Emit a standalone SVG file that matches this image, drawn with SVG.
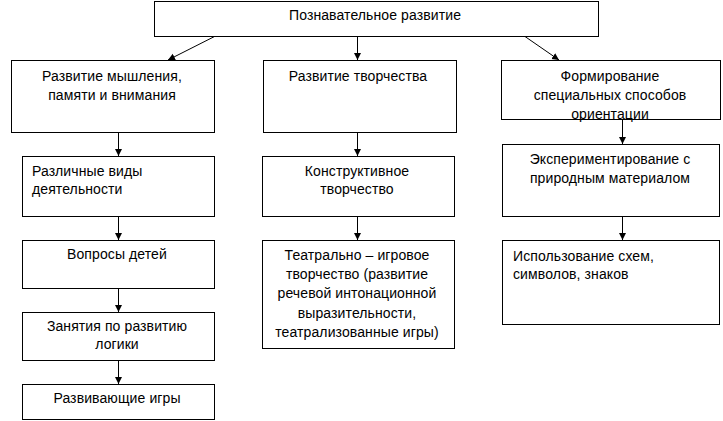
<svg xmlns="http://www.w3.org/2000/svg" width="723" height="421" viewBox="0 0 723 421">
<defs>
<marker id="ah" markerWidth="8" markerHeight="8" refX="7" refY="4" orient="auto" markerUnits="userSpaceOnUse">
<path d="M0,0.5 L7,4 L0,7.5 Z" fill="#000"/>
</marker>
<style>
.box{fill:#fff;stroke:#000;stroke-width:1}
text{font-family:"Liberation Sans",Arial,sans-serif;font-size:14px;fill:#000;letter-spacing:0.1px}
.c{text-anchor:middle}
.ln{stroke:#000;stroke-width:1;fill:none;marker-end:url(#ah)}
</style>
</defs>
<rect width="723" height="421" fill="#fff"/>
<g id="connectors">
<line class="ln" x1="214.5" y1="36.5" x2="168" y2="60"/>
<line class="ln" x1="357.5" y1="36.5" x2="357.5" y2="60"/>
<line class="ln" x1="525" y1="36.5" x2="559" y2="60"/>
<line class="ln" x1="118.5" y1="132.5" x2="118.5" y2="156"/>
<line class="ln" x1="118.5" y1="216.5" x2="118.5" y2="240"/>
<line class="ln" x1="118.5" y1="288.5" x2="118.5" y2="312"/>
<line class="ln" x1="118.5" y1="360.5" x2="118.5" y2="384"/>
<line class="ln" x1="357.5" y1="132.5" x2="357.5" y2="156"/>
<line class="ln" x1="357.5" y1="216.5" x2="357.5" y2="240"/>
<line class="ln" x1="622.5" y1="119.5" x2="622.5" y2="144"/>
<line class="ln" x1="622.5" y1="216.5" x2="622.5" y2="240"/>
</g>
<g id="n0"><rect class="box" x="154.5" y="1.5" width="444" height="35"/><text class="c" x="375" y="20">Познавательное развитие</text></g>
<g id="n1"><rect class="box" x="11.5" y="60.5" width="203" height="72"/><text class="c" x="112" y="81">Развитие мышления,</text><text class="c" x="112" y="100">памяти и внимания</text></g>
<g id="n2"><rect class="box" x="263.5" y="60.5" width="193" height="72"/><text class="c" x="358" y="81">Развитие творчества</text></g>
<g id="n3"><rect class="box" x="501.5" y="60.5" width="219" height="59"/><text class="c" x="610" y="81">Формирование</text><text class="c" x="610" y="100">специальных способов</text><text class="c" x="610" y="119">ориентации</text></g>
<g id="n4"><rect class="box" x="22.5" y="156.5" width="192" height="60"/><text x="32" y="176">Различные виды</text><text x="32" y="194">деятельности</text></g>
<g id="n5"><rect class="box" x="22.5" y="240.5" width="192" height="48"/><text class="c" x="117" y="259">Вопросы детей</text></g>
<g id="n6"><rect class="box" x="22.5" y="312.5" width="192" height="48"/><text class="c" x="117" y="331">Занятия по развитию</text><text class="c" x="117" y="349">логики</text></g>
<g id="n7"><rect class="box" x="22.5" y="384.5" width="192" height="35"/><text class="c" x="117" y="403">Развивающие игры</text></g>
<g id="n8"><rect class="box" x="262.5" y="156.5" width="192" height="60"/><text class="c" x="357" y="176">Конструктивное</text><text class="c" x="357" y="194">творчество</text></g>
<g id="n9"><rect class="box" x="262.5" y="240.5" width="192" height="108"/><text class="c" x="357" y="260">Театрально – игровое</text><text class="c" x="357" y="279">творчество (развитие</text><text class="c" x="357" y="298">речевой интонационной</text><text class="c" x="357" y="318">выразительности,</text><text class="c" x="357" y="337">театрализованные игры)</text></g>
<g id="n10"><rect class="box" x="502.5" y="144.5" width="217" height="72"/><text class="c" x="610" y="164">Экспериментирование с</text><text class="c" x="610" y="183">природным материалом</text></g>
<g id="n11"><rect class="box" x="502.5" y="240.5" width="217" height="84"/><text x="513" y="261">Использование схем,</text><text x="513" y="279">символов, знаков</text></g>
</svg>
